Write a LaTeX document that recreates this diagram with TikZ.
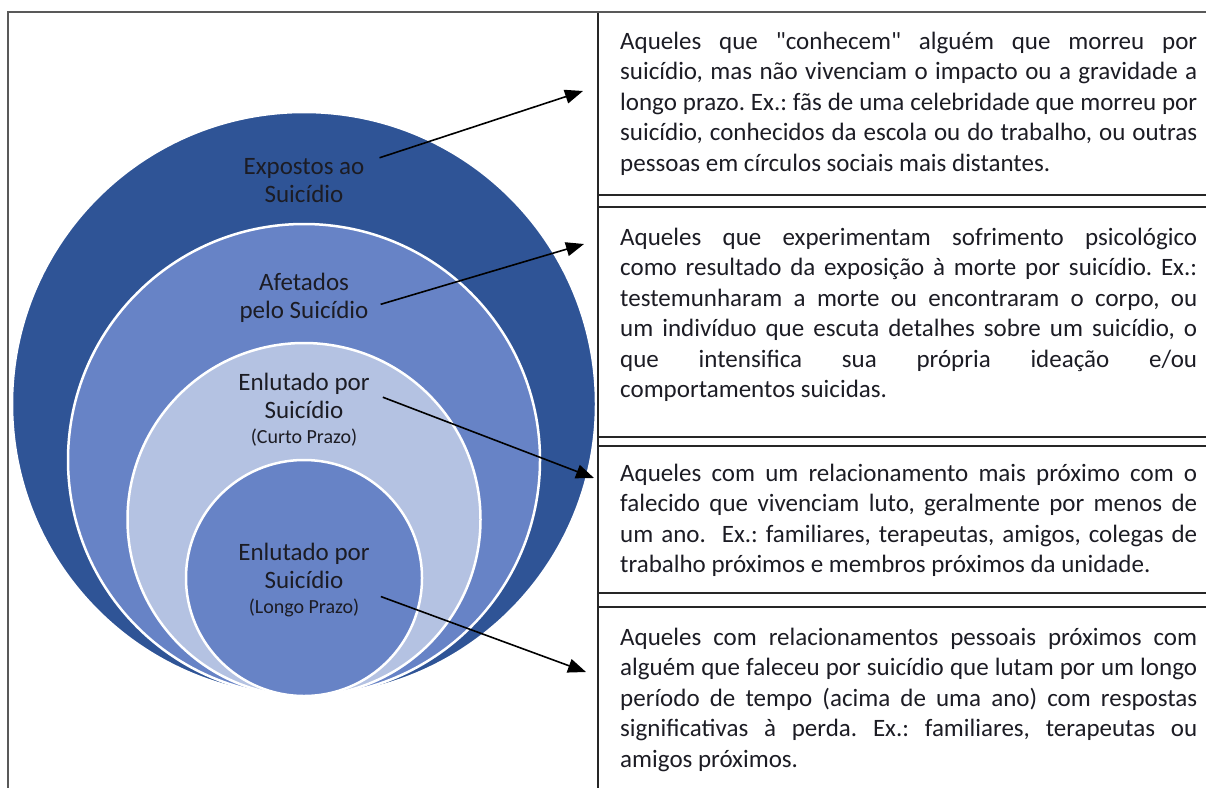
\documentclass[tikz,border=0pt]{standalone}
\usepackage{fontspec}
\setmainfont{Carlito}
\usepackage{xcolor}
\usetikzlibrary{arrows.meta}

\definecolor{ringdark}{RGB}{47,84,150}
\definecolor{ringmid}{RGB}{103,131,198}
\definecolor{ringlight}{RGB}{180,194,226}
\definecolor{inktext}{RGB}{28,28,36}
\newcommand{\circfont}{\fontsize{25}{28}\selectfont}
\newcommand{\tinyfont}{\fontsize{20}{24}\selectfont}
\newcommand{\descfont}{\fontsize{25}{30.5}\selectfont\frenchspacing\tolerance=10000\hbadness=10000\hyphenpenalty=10000}

\begin{document}
\begin{tikzpicture}[x=1pt,y=-1pt,
    ring/.style={draw=white,line width=2.5pt},
    lbl/.style={anchor=base,align=center,inner sep=0pt,font=\circfont,text=inktext},
    desc/.style={anchor=base west,text width=577pt,align=justify,inner sep=0pt,font=\descfont,text=inktext},
    pointer/.style={line width=1.6pt,-{Triangle[length=18pt,width=14pt]}},
    cell/.style={draw=black!85,line width=1.4pt},
    frame/.style={draw=black!65,line width=2pt}]
      \useasboundingbox (0,0) rectangle (1206,787);
      \clip (0,0) rectangle (1206,787);
      % circles, all touching at the bottom
      \filldraw[ring,fill=ringdark] (304,404) circle[radius=292];
      \filldraw[ring,fill=ringmid] (304,460) circle[radius=236];
      \filldraw[ring,fill=ringlight] (304,519.5) circle[radius=176.5];
      \filldraw[ring,fill=ringmid] (304,578) circle[radius=118];
      % labels sit on the baseline of their last line
      \node[lbl] (expostos) at (304,202) {Expostos ao\\Suicídio};
      \node[lbl] (afetados) at (304,318) {Afetados\\pelo Suicídio};
      \node[lbl] (curto) at (304,443) {Enlutado por\\Suicídio\\[-3pt]{\tinyfont (Curto Prazo)}};
      \node[lbl] (longo) at (304,613) {Enlutado por\\Suicídio\\[-3pt]{\tinyfont (Longo Prazo)}};
      % table on the right
      \draw[cell] (598,12) rectangle (1220,195);
      \draw[cell] (598,207) rectangle (1220,437);
      \draw[cell] (598,446) rectangle (1220,593);
      \draw[cell] (598,607) rectangle (1220,800);
      \draw[cell] (598,12) -- (598,800);
      \draw[frame] (8,800) -- (8,12) -- (1220,12);
      \node[desc] (desc1) at (620,49) {Aqueles que \textquotedbl conhecem\textquotedbl{} alguém que morreu por\linebreak
        suicídio, mas não vivenciam o impacto ou a gravidade a\linebreak
        longo prazo. Ex.: fãs de uma celebridade que morreu por\linebreak
        suicídio, conhecidos da escola ou do trabalho, ou outras\linebreak
        pessoas em círculos sociais mais distantes.};
      \node[desc] (desc2) at (620,245) {Aqueles que experimentam sofrimento psicológico\linebreak
        como resultado da exposição à morte por suicídio. Ex.:\linebreak
        testemunharam a morte ou encontraram o corpo, ou\linebreak
        um indivíduo que escuta detalhes sobre um suicídio, o\linebreak
        que intensifica sua própria ideação e/ou\linebreak
        comportamentos suicidas.};
      \node[desc] (desc3) at (620,481) {Aqueles com um relacionamento mais próximo com o\linebreak
        falecido que vivenciam luto, geralmente por menos de\linebreak
        um ano.\ \ Ex.: familiares, terapeutas, amigos, colegas de\linebreak
        trabalho próximos e membros próximos da unidade.};
      \node[desc] (desc4) at (620,645) {Aqueles com relacionamentos pessoais próximos com\linebreak
        alguém que faleceu por suicídio que lutam por um longo\linebreak
        período de tempo (acima de uma ano) com respostas\linebreak
        significativas à perda. Ex.: familiares, terapeutas ou\linebreak
        amigos próximos.};
      % arrows
      \coordinate (tipA) at (583,91);
      \coordinate (tipB) at (584,244);
      \coordinate (tipC) at (594,478);
      \coordinate (tipD) at (586,672);
      \draw[pointer] ([xshift=15pt]expostos.north east) -- (tipA);
      \draw[pointer] ([xshift=12pt,yshift=-7pt]afetados.east) -- (tipB);
      \draw[pointer] ([xshift=13pt,yshift=12pt]curto.east) -- (tipC);
      \draw[pointer] ([xshift=11pt,yshift=-17pt]longo.east) -- (tipD);
\end{tikzpicture}
\end{document}
